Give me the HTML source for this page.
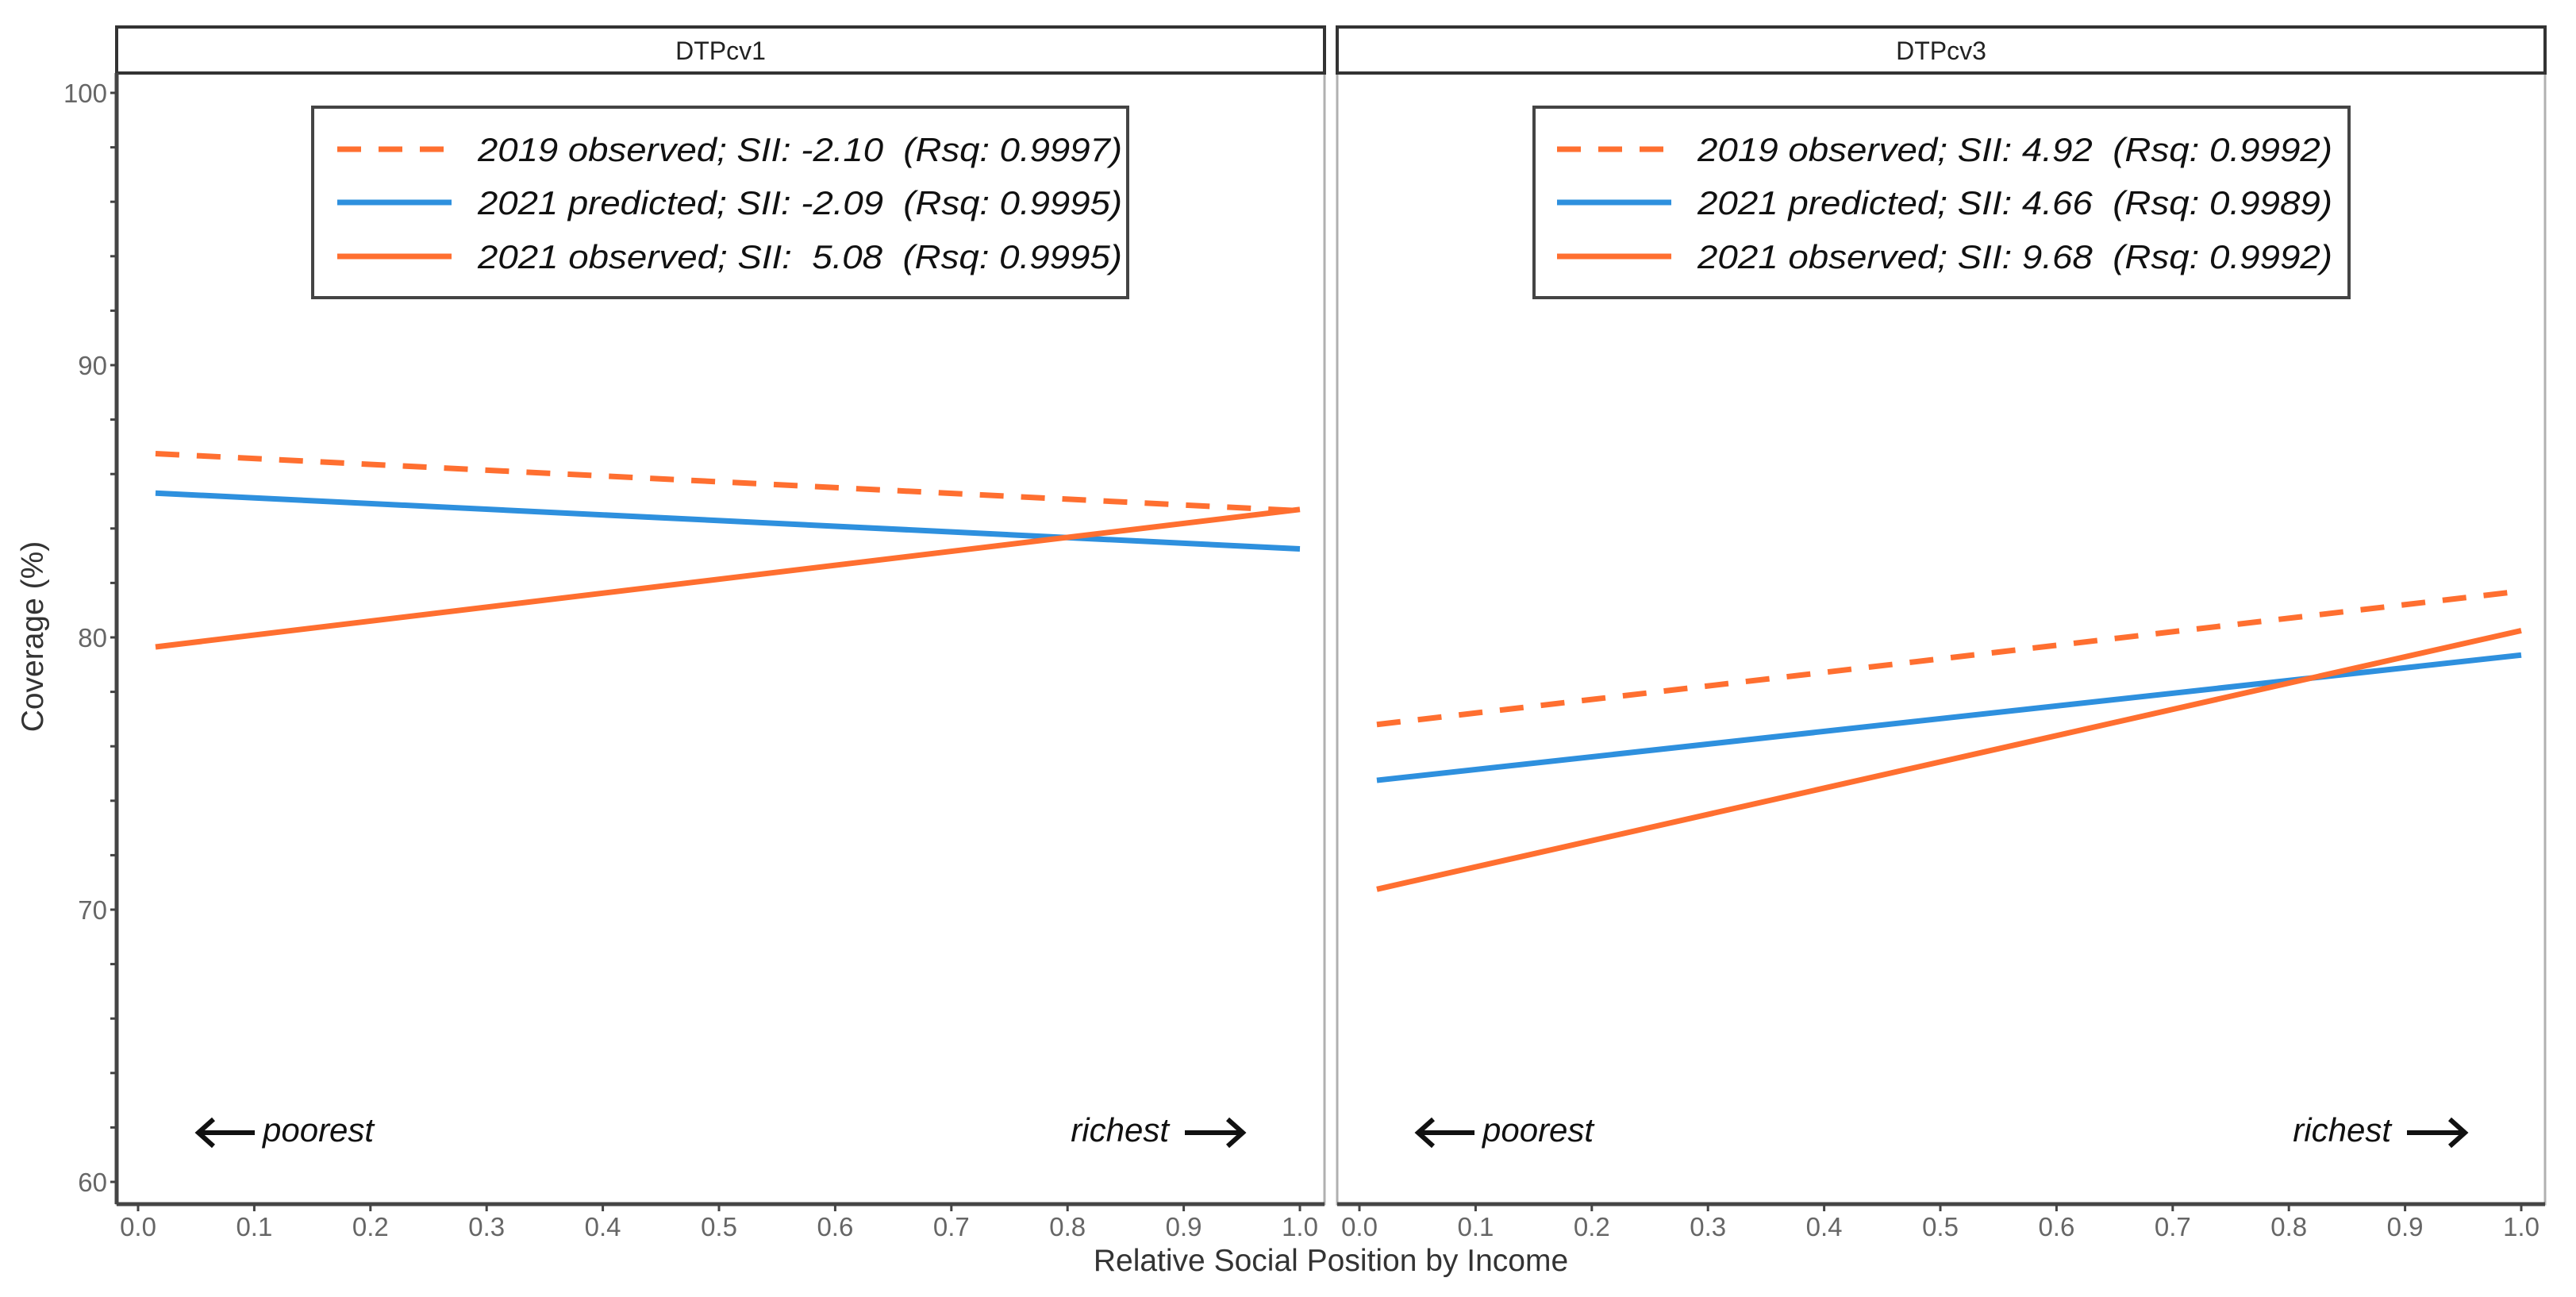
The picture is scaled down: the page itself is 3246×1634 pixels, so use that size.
<!DOCTYPE html>
<html><head><meta charset="utf-8"><style>
html,body{margin:0;padding:0;background:#fff;}
svg{display:block;font-family:"Liberation Sans",sans-serif;}
text{white-space:pre;}
</style></head><body>
<svg id="chart" width="3246" height="1634" viewBox="0 0 3246 1634"></svg>
<script>
const panelNames = ["DTPcv1","DTPcv3"];
const xStart = [0.015, 0.015];
const xEnd = [1.0, 1.0];
const obs2019Start = [86.75, 76.8];
const obs2019End = [84.65, 81.7];
const pred2021Start = [85.3, 74.75];
const pred2021End = [83.25, 79.35];
const obs2021Start = [79.65, 70.75];
const obs2021End = [84.7, 80.25];
const legendLabels = [
 ["2019 observed; SII: -2.10  (Rsq: 0.9997)","2021 predicted; SII: -2.09  (Rsq: 0.9995)","2021 observed; SII:  5.08  (Rsq: 0.9995)"],
 ["2019 observed; SII: 4.92  (Rsq: 0.9992)","2021 predicted; SII: 4.66  (Rsq: 0.9989)","2021 observed; SII: 9.68  (Rsq: 0.9992)"]
];
const xTicks = [0,0.1,0.2,0.3,0.4,0.5,0.6,0.7,0.8,0.9,1.0];
const yTicks = [60,70,80,90,100];

const NS="http://www.w3.org/2000/svg";
const svg=document.getElementById('chart');
function el(t,a,p){const e=document.createElementNS(NS,t);for(const k in a)e.setAttribute(k,a[k]);(p||svg).appendChild(e);return e;}
const ORANGE="#ff6f30", BLUE="#2e90de";
const panels=[{l:147,r:1669,x0:174},{l:1685,r:3207,x0:1713}];
const yTop=92, yBot=1517;
function ys(v){return 1489-(v-60)*34.3;}
function xsFor(p){return v=>p.x0+v*1464;}

panels.forEach((p,i)=>{
  const xs=xsFor(p);
  const g=el('g',{});
  
  
  el('rect',{x:p.l,y:yTop,width:p.r-p.l,height:yBot-yTop,fill:'#fff',stroke:'#b0b0b0','stroke-width':3},g);
  const st=el('rect',{x:p.l,y:34,width:p.r-p.l,height:58,fill:'#fff',stroke:'#333','stroke-width':4},g);
  
  
  const stt=el('text',{x:(p.l+p.r)/2,y:75,'text-anchor':'middle','font-size':32,fill:'#222'},g);
  stt.textContent=panelNames[i];
  
  
  const xa=el('line',{x1:p.l,x2:p.r,y1:yBot,y2:yBot,stroke:'#444','stroke-width':5},g);
  
  
  xTicks.forEach(t=>{
    el('line',{x1:xs(t),x2:xs(t),y1:yBot,y2:yBot+9,stroke:'#444','stroke-width':3},g);
    const tx=el('text',{x:xs(t),y:1557,'text-anchor':'middle','font-size':33,fill:'#666'},g);
    tx.textContent=t.toFixed(1);
    
    
  });
  if(i===0){
    const ya=el('line',{x1:p.l,x2:p.l,y1:yTop,y2:yBot,stroke:'#444','stroke-width':5},g);
    
    
    for(let v=60;v<=100;v+=2) el('line',{x1:p.l-8,x2:p.l,y1:ys(v),y2:ys(v),stroke:'#444','stroke-width':3},g);
    yTicks.forEach(v=>{
      const ty=el('text',{x:p.l-12,y:ys(v)+12,'text-anchor':'end','font-size':33,fill:'#666'},g);
      ty.textContent=v;
      
      
    });
  }
  const series=[[obs2019Start,obs2019End,ORANGE,'30,22','line-2019-observed'],[pred2021Start,pred2021End,BLUE,null,'line-2021-predicted'],[obs2021Start,obs2021End,ORANGE,null,'line-2021-observed']];
  series.forEach(s=>{
    const a={x1:xs(xStart[i]),y1:ys(s[0][i]),x2:xs(xEnd[i]),y2:ys(s[1][i]),stroke:s[2],'stroke-width':7};
    if(s[3])a['stroke-dasharray']=s[3];
    const ln=el('line',a,g);
    
    
  });
  const lx=i===0?394:1933, lw=1027;
  const lg=el('g',{},g);
  
  
  el('rect',{x:lx,y:135,width:lw,height:240,fill:'#fff',stroke:'#444','stroke-width':4},lg);
  const rowsY=[188,255,323];
  const cols=[ORANGE,BLUE,ORANGE];
  const sx1=i===0?425:1962, sx2=sx1+144, tx0=i===0?602:2139, tlen=i===0?812:800;
  rowsY.forEach((ry,k)=>{
    const a={x1:sx1,x2:sx2,y1:ry,y2:ry,stroke:cols[k],'stroke-width':7};
    if(k===0)a['stroke-dasharray']='30,22';
    el('line',a,lg);
    const t=el('text',{x:tx0,y:ry+15,'font-size':42,'font-style':'italic',fill:'#111',textLength:tlen,lengthAdjust:'spacingAndGlyphs'},lg);
    t.textContent=legendLabels[i][k];
    
    
  });
  const po=i===0?247:1784, ri=i===0?1569:3109;
  const ag=el('g',{},g);
  
  
  el('path',{d:`M${po+74},1427 H${po+3} M${po+22},1410 L${po+3},1427 L${po+22},1444`,fill:'none',stroke:'#111','stroke-width':6},ag);
  const pt=el('text',{x:po+84,y:1438,'font-size':42,'font-style':'italic',fill:'#111'},ag);
  pt.textContent='poorest';
  const rg=el('g',{},g);
  
  
  el('path',{d:`M${ri-76},1427 H${ri-3} M${ri-22},1410 L${ri-3},1427 L${ri-22},1444`,fill:'none',stroke:'#111','stroke-width':6},rg);
  const rt=el('text',{x:ri-96,y:1438,'font-size':42,'font-style':'italic',fill:'#111','text-anchor':'end'},rg);
  rt.textContent='richest';
});
const xt=el('text',{x:1677,y:1601,'text-anchor':'middle','font-size':39,fill:'#333'});
xt.textContent='Relative Social Position by Income';


const yt=el('text',{x:0,y:0,'text-anchor':'middle','font-size':39,fill:'#333',transform:'translate(54,802) rotate(-90)'});
yt.textContent='Coverage (%)';


</script>
</body></html>
